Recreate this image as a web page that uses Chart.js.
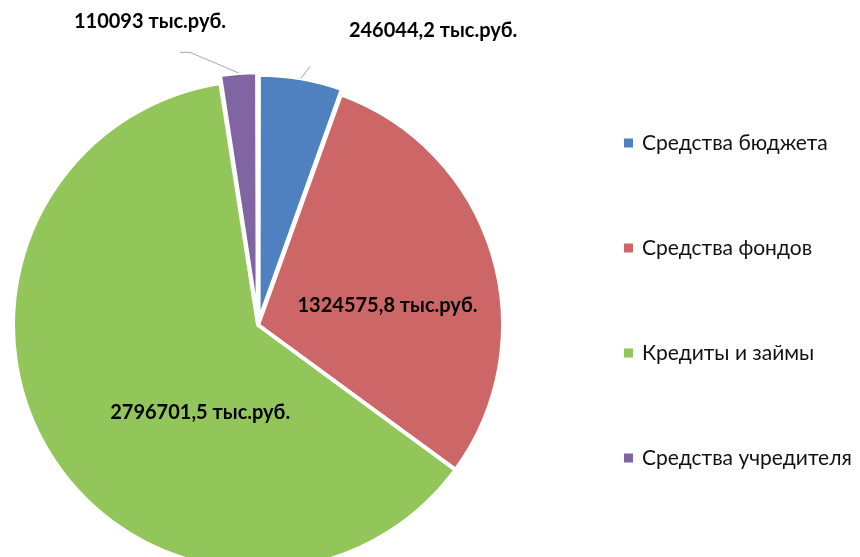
<!DOCTYPE html>
<html>
<head>
<meta charset="utf-8">
<script src="https://cdn.jsdelivr.net/npm/chart.js@4.4.0/dist/chart.umd.min.js"></script>
<style>
    html, body { margin: 0; padding: 0; background: #fff; }
</style>
</head>
<body>
<canvas id="chart" width="860" height="557"></canvas>
<script>
// Данные диаграммы
const categories = ['Средства бюджета', 'Средства фондов', 'Кредиты и займы', 'Средства учредителя'];
const values = [246044.2, 1324575.8, 2796701.5, 110093];
const unit = 'тыс.руб.';
const colors = ['#4f81c0', '#cd6767', '#93c65a', '#8165a3'];

// Подпись: число с запятой + единица
const formatValue = v => String(v).replace('.', ',') + ' ' + unit;

// Полярные позиции подписей (угол от верха по часовой, радиус от центра)
const labelPlacement = [
    { angle: 30.7, r: 343, leader: [{ angle: 11.4, r: 264 }] },
    { angle: 81.3, r: 131 },
    { angle: 213.4, r: 105 },
    { angle: -19.6, r: 322, leader: [{ angle: -14, r: 281 }, { dx: -10, dy: 0 }] }
];

const toXY = (cx, cy, angleDeg, r) => {
    const a = angleDeg * Math.PI / 180 - Math.PI / 2;
    return { x: cx + r * Math.cos(a), y: cy + r * Math.sin(a) };
};

// Плагин подписей долей с выносными линиями
const sliceLabelsPlugin = {
    id: 'sliceLabels',
    afterDatasetsDraw(chart) {
        const ctx = chart.ctx;
        const meta = chart.getDatasetMeta(0);
        const ds = chart.data.datasets[0];
        ctx.save();
        meta.data.forEach((arc, i) => {
            const p = labelPlacement[i];
            const { x: cx, y: cy, startAngle, endAngle, outerRadius } = arc.getProps(['x', 'y', 'startAngle', 'endAngle', 'outerRadius'], true);
            if (p.leader) {
                const mid = (startAngle + endAngle) / 2;
                // как в ArcElement.draw: сдвиг offset/4 и прирост радиуса
                const off = (ds.offset[i] || 0) / 4;
                const fix = 1 - Math.sin(Math.min(Math.PI, endAngle - startAngle));
                const r = outerRadius + off + off * fix;
                let px = cx + r * Math.cos(mid);
                let py = cy + r * Math.sin(mid);
                ctx.beginPath();
                ctx.strokeStyle = '#a6a6a6';
                ctx.lineWidth = 1;
                ctx.moveTo(px, py);
                p.leader.forEach(pt => {
                    if (pt.angle !== undefined) {
                        const q = toXY(cx, cy, pt.angle, pt.r);
                        px = q.x; py = q.y;
                    } else {
                        px += pt.dx; py += pt.dy;
                    }
                    ctx.lineTo(px, py);
                });
                ctx.stroke();
            }
            const pos = toXY(cx, cy, p.angle, p.r);
            ctx.font = 'bold 20px Lato';
            ctx.fillStyle = '#000';
            ctx.textAlign = 'center';
            ctx.textBaseline = 'middle';
            ctx.fillText(formatValue(values[i]), pos.x, pos.y);
        });
        ctx.restore();
    }
};

// Плагин легенды справа
const sideLegendPlugin = {
    id: 'sideLegend',
    afterDraw(chart, args, opts) {
        const ctx = chart.ctx;
        ctx.save();
        ctx.font = '21px Lato';
        ctx.textAlign = 'left';
        ctx.textBaseline = 'middle';
        categories.forEach((label, i) => {
            const cy = opts.top + i * opts.step;
            ctx.fillStyle = colors[i];
            ctx.fillRect(opts.left, cy - 4.5, 9, 9);
            ctx.fillStyle = '#111111';
            ctx.fillText(label, opts.left + 18, cy);
        });
        ctx.restore();
    }
};

new Chart(document.getElementById('chart'), {
    type: 'pie',
    data: {
        labels: categories,
        datasets: [{
            data: values,
            backgroundColor: colors,
            borderColor: '#ffffff',
            borderWidth: 4,
            offset: [13, 0, 0, 17],
            radius: 245,
            clip: false
        }]
    },
    options: {
        responsive: false,
        animation: false,
        layout: { padding: { left: 0, right: 344, top: 93, bottom: 0 } },
        plugins: {
            legend: { display: false },
            tooltip: { enabled: false },
            sideLegend: { left: 624, top: 143, step: 105 }
        }
    },
    plugins: [sliceLabelsPlugin, sideLegendPlugin]
});
</script>
</body>
</html>
